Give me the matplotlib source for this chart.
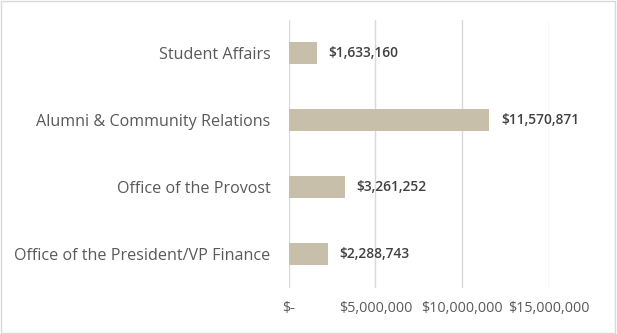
import matplotlib.pyplot as plt
from matplotlib.patches import Rectangle
from matplotlib.ticker import FuncFormatter

plt.rcParams['font.family'] = ['Open Sans', 'DejaVu Sans']

# Departments listed bottom-to-top
departments = ['Office of the President/VP Finance', 'Office of the Provost',
               'Alumni & Community Relations', 'Student Affairs']
amounts = [2288743, 3261252, 11570871, 1633160]
tick_values = [0, 5000000, 10000000, 15000000]

bar_color = '#c8bfaa'
grid_color = '#d9d9d9'
text_gray = '#595959'

fig = plt.figure(figsize=(6.17, 3.34), dpi=100)
ax = fig.add_axes([0.4676, 0.1392, 0.4222, 0.8024])

ypos = range(len(departments))
ax.barh(ypos, amounts, height=0.34, color=bar_color, zorder=3)

for y, v in zip(ypos, amounts):
    ax.annotate(f'${v:,.0f}', xy=(v, y), xytext=(8.2, 0), textcoords='offset points',
                va='center', ha='left', fontsize=9.9, fontweight='semibold',
                color='#404040')

ax.set_xlim(0, 15000000)
ax.set_ylim(-0.5, len(departments) - 0.5)
ax.set_yticks(list(ypos))
ax.set_yticklabels(departments, fontsize=11.6, color=text_gray)
ax.set_xticks(tick_values)
ax.xaxis.set_major_formatter(FuncFormatter(lambda v, p: '$-' if v == 0 else f'${v:,.0f}'))
ax.tick_params(axis='x', labelsize=10.4, colors=text_gray, length=0, pad=10)
ax.tick_params(axis='y', length=0, pad=13)

ax.grid(axis='x', color=grid_color, linewidth=1, zorder=0)
for s in ax.spines.values():
    s.set_visible(False)

# light frame around the whole chart
fig.patches.append(Rectangle((0.002, 0.004), 0.994, 0.992, transform=fig.transFigure,
                             fill=False, edgecolor=grid_color, linewidth=1))

fig.savefig('out.png', dpi=100)
